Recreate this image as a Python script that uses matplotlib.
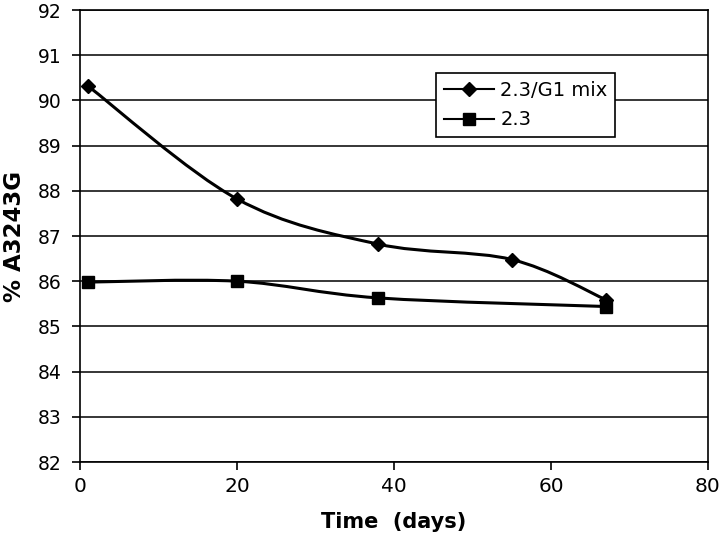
import numpy as np
import matplotlib
matplotlib.use("Agg")
import matplotlib.pyplot as plt
from matplotlib.path import Path
from matplotlib.patches import PathPatch
from matplotlib.lines import Line2D

plt.rcParams['font.family'] = ['DejaVu Sans']

mix_days = [1, 20, 38, 55, 67]
mix_vals = [90.32, 87.82, 86.82, 86.48, 85.59]
pure_days = [1, 20, 38, 67]
pure_vals = [85.98, 86.00, 85.63, 85.44]
series_labels = ["2.3/G1 mix", "2.3"]
x_ticks = [0, 20, 40, 60, 80]
y_ticks = [82, 83, 84, 85, 86, 87, 88, 89, 90, 91, 92]


def smooth_path(xs, ys):
    pts = np.column_stack([xs, ys]).astype(float)
    n = len(pts)
    verts = [pts[0]]
    codes = [Path.MOVETO]
    for i in range(n - 1):
        p0 = pts[i - 1] if i > 0 else pts[i]
        p1 = pts[i]
        p2 = pts[i + 1]
        p3 = pts[i + 2] if i + 2 < n else pts[i + 1]
        c1 = p1 + (p2 - p0) / 6.0
        c2 = p2 - (p3 - p1) / 6.0
        verts += [c1, c2, p2]
        codes += [Path.CURVE4] * 3
    return Path(verts, codes)


fig = plt.figure(figsize=(7.2, 5.4), dpi=100)
ax = fig.add_axes([80 / 720, 1 - 462 / 540, 628 / 720, 452 / 540])

for xs, ys in [(mix_days, mix_vals), (pure_days, pure_vals)]:
    ax.add_patch(PathPatch(smooth_path(xs, ys), facecolor='none',
                           edgecolor='black', lw=2.2, zorder=3))

ax.plot(mix_days, mix_vals, ls='none', marker='D', ms=7.5, color='black', zorder=4)
ax.plot(pure_days, pure_vals, ls='none', marker='s', ms=8, color='black', zorder=4)

ax.set_xlim(0, 80)
ax.set_ylim(82, 92)
ax.set_xticks(x_ticks)
ax.set_yticks(y_ticks)
ax.yaxis.grid(True, color='black', lw=1.1)
ax.set_axisbelow(True)
for s in ax.spines.values():
    s.set_color('black')
    s.set_linewidth(1.2)
ax.tick_params(axis='both', direction='out', length=6, width=1.2,
               colors='black')
ax.tick_params(axis='x', labelsize=14.5, pad=5)
ax.tick_params(axis='y', labelsize=13.5, pad=7)

ax.set_xlabel("Time  (days)", fontsize=15, fontweight='bold', labelpad=11)
ax.set_ylabel("% A3243G", fontsize=16.5, fontweight='bold', labelpad=9)

handles = [
    Line2D([], [], color='black', lw=1.5, marker='D', ms=7),
    Line2D([], [], color='black', lw=1.5, marker='s', ms=8),
]
leg = fig.legend(handles, series_labels, loc='upper left',
                 bbox_to_anchor=(436 / 720, 1 - 73 / 540),
                 fontsize=14, frameon=True, fancybox=False,
                 edgecolor='black', handlelength=2.6, handletextpad=0.3,
                 borderpad=0.4, labelspacing=0.55, borderaxespad=0)
leg.get_frame().set_linewidth(1.2)
leg.get_frame().set_facecolor('white')
leg.get_frame().set_alpha(1)

fig.savefig("out.png", dpi=100)
